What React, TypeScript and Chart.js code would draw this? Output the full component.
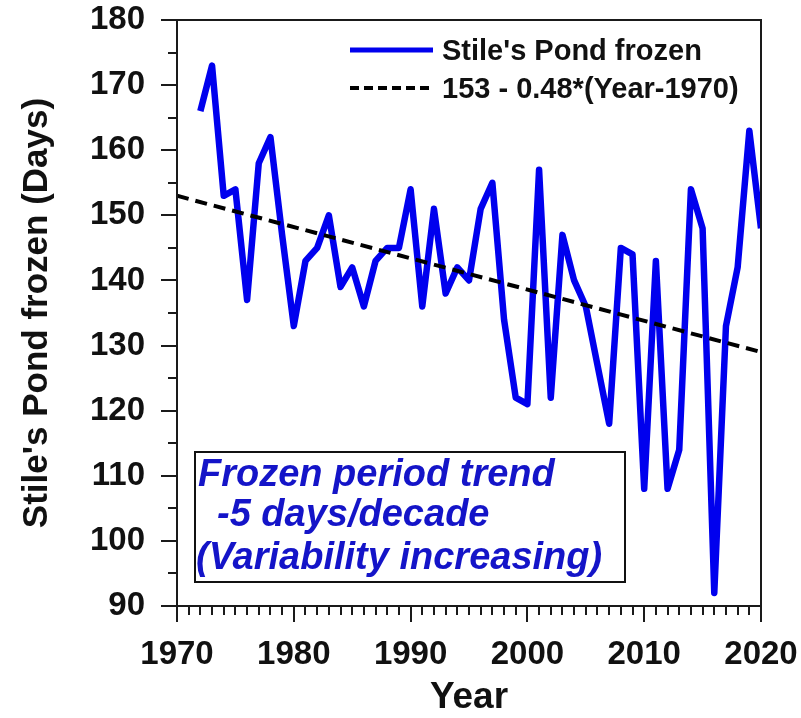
import { useEffect, useRef } from "react";
import { Chart, registerables } from "chart.js";

Chart.register(...registerables);

// ---- data ----
const years: number[] = [
  1972, 1973, 1974, 1975, 1976, 1977, 1978, 1979, 1980, 1981,
  1982, 1983, 1984, 1985, 1986, 1987, 1988, 1989, 1990, 1991,
  1992, 1993, 1994, 1995, 1996, 1997, 1998, 1999, 2000, 2001,
  2002, 2003, 2004, 2005, 2006, 2007, 2008, 2009, 2010, 2011,
  2012, 2013, 2014, 2015, 2016, 2017, 2018, 2019, 2020,
];
const frozenDays: number[] = [
  166, 173, 153, 154, 137, 158, 162, 147, 133, 143,
  145, 150, 139, 142, 136, 143, 145, 145, 154, 136,
  151, 138, 142, 140, 151, 155, 134, 122, 121, 157,
  122, 147, 140, 136, 127, 118, 145, 144, 108, 143,
  108, 114, 154, 148, 92, 133, 142, 163, 148,
];
const trendYears: number[] = [1970, 2020];
const trendDays: number[] = [153, 129];

const seriesLabel = "Stile's Pond frozen";
const trendLabel = "153 - 0.48*(Year-1970)";
const xTitle = "Year";
const yTitle = "Stile's Pond frozen (Days)";
const noteLines: string[] = ["Frozen period trend", "-5 days/decade", "(Variability increasing)"];

const X_MIN = 1970;
const X_MAX = 2020;
const Y_MIN = 90;
const Y_MAX = 180;

const FONT = '"Liberation Sans", Arial, sans-serif';
const LINE_BLUE = "#0000ee";
const TEXT_BLUE = "#1414c8";

const decorPlugin = {
  id: "decor",
  afterDraw(chart: any) {
    const { ctx, chartArea: a, scales } = chart;
    const xs = scales.x;
    const ys = scales.y;
    ctx.save();
    // frame
    ctx.strokeStyle = "#1a1a1a";
    ctx.lineWidth = 2;
    ctx.strokeRect(a.left, a.top, a.right - a.left, a.bottom - a.top);
    // x ticks (outward, below)
    ctx.beginPath();
    for (let yr = X_MIN; yr <= X_MAX; yr++) {
      const px = Math.round(xs.getPixelForValue(yr));
      const len = yr % 10 === 0 ? 16 : 9;
      ctx.moveTo(px, a.bottom);
      ctx.lineTo(px, a.bottom + len);
    }
    // y ticks (outward, left)
    for (let v = Y_MIN; v <= Y_MAX; v += 5) {
      const py = Math.round(ys.getPixelForValue(v));
      const len = v % 10 === 0 ? 16 : 9;
      ctx.moveTo(a.left - len, py);
      ctx.lineTo(a.left, py);
    }
    ctx.stroke();

    // legend
    const lx0 = a.left + 173;
    const lx1 = a.left + 256;
    const tx = a.left + 265;
    const ly1 = a.top + 30;
    const ly2 = a.top + 68;
    ctx.lineCap = "butt";
    ctx.strokeStyle = LINE_BLUE;
    ctx.lineWidth = 5;
    ctx.setLineDash([]);
    ctx.beginPath();
    ctx.moveTo(lx0, ly1);
    ctx.lineTo(lx1, ly1);
    ctx.stroke();
    ctx.strokeStyle = "#000";
    ctx.lineWidth = 4;
    ctx.setLineDash([9, 5]);
    ctx.beginPath();
    ctx.moveTo(lx0, ly2);
    ctx.lineTo(lx1, ly2);
    ctx.stroke();
    ctx.setLineDash([]);
    ctx.fillStyle = "#111";
    ctx.font = `bold 29px ${FONT}`;
    ctx.textAlign = "left";
    ctx.textBaseline = "middle";
    ctx.fillText(seriesLabel, tx, ly1 + 2);
    ctx.fillText(trendLabel, tx, ly2 + 2);

    // note box
    const bx = a.left + 18;
    const by = a.top + 432;
    const bw = 430;
    const bh = 130;
    ctx.fillStyle = "#fff";
    ctx.fillRect(bx, by, bw, bh);
    ctx.strokeStyle = "#111";
    ctx.lineWidth = 2;
    ctx.strokeRect(bx, by, bw, bh);
    ctx.fillStyle = TEXT_BLUE;
    ctx.font = `italic bold 38px ${FONT}`;
    ctx.textBaseline = "alphabetic";
    ctx.fillText(noteLines[0], bx + 3, by + 34);
    ctx.fillText(noteLines[1], bx + 22, by + 74);
    ctx.fillText(noteLines[2], bx + 1, by + 117);
    ctx.restore();
  },
};

export default function App() {
  const ref = useRef<HTMLCanvasElement | null>(null);

  useEffect(() => {
    if (!ref.current) return;
    const chart = new Chart(ref.current, {
      type: "line",
      data: {
        datasets: [
          {
            label: seriesLabel,
            data: years.map((yr, i) => ({ x: yr, y: frozenDays[i] })),
            borderColor: LINE_BLUE,
            borderWidth: 6.5,
            borderJoinStyle: "round",
            pointRadius: 0,
            tension: 0,
            order: 2,
          },
          {
            label: trendLabel,
            data: trendYears.map((yr, i) => ({ x: yr, y: trendDays[i] })),
            borderColor: "#000",
            borderWidth: 4,
            borderDash: [12, 7],
            pointRadius: 0,
            tension: 0,
            order: 1,
          },
        ],
      },
      options: {
        animation: false,
        responsive: false,
        devicePixelRatio: 1,
        layout: { padding: { top: 20, right: 40, left: 0, bottom: 0 } },
        plugins: {
          legend: { display: false },
          tooltip: { enabled: false },
        },
        scales: {
          x: {
            type: "linear",
            min: X_MIN,
            max: X_MAX,
            afterFit: (s: any) => {
              s.height = 112;
            },
            grid: { display: true, drawOnChartArea: false, drawTicks: true, tickLength: 29, tickColor: "rgba(0,0,0,0)" },
            border: { display: false },
            ticks: {
              stepSize: 10,
              autoSkip: false,
              maxRotation: 0,
              padding: 0,
              color: "#111",
              font: { family: FONT, size: 33, weight: "bold" },
              callback: (v: any) => String(v),
            },
            title: {
              display: true,
              text: xTitle,
              color: "#111",
              font: { family: FONT, size: 37, weight: "bold", lineHeight: 1 },
              padding: { top: 0, bottom: 2 },
            },
          },
          y: {
            type: "linear",
            min: Y_MIN,
            max: Y_MAX,
            afterFit: (s: any) => {
              s.width = 177;
            },
            grid: { display: true, drawOnChartArea: false, drawTicks: true, tickLength: 32, tickColor: "rgba(0,0,0,0)" },
            border: { display: false },
            ticks: {
              stepSize: 10,
              autoSkip: false,
              padding: 0,
              color: "#111",
              font: { family: FONT, size: 33, weight: "bold" },
              callback: (v: any) => String(v),
            },
            title: {
              display: true,
              text: yTitle,
              color: "#111",
              font: { family: FONT, size: 35, weight: "bold", lineHeight: 1 },
              padding: { top: 20, bottom: 0 },
            },
          },
        },
      },
      plugins: [decorPlugin],
    } as any);
    return () => chart.destroy();
  }, []);

  return (
    <div style={{ position: "absolute", left: 0, top: 0, width: 801, height: 718, background: "#fff" }}>
      <canvas ref={ref} width={801} height={718} style={{ width: 801, height: 718 }} />
    </div>
  );
}
